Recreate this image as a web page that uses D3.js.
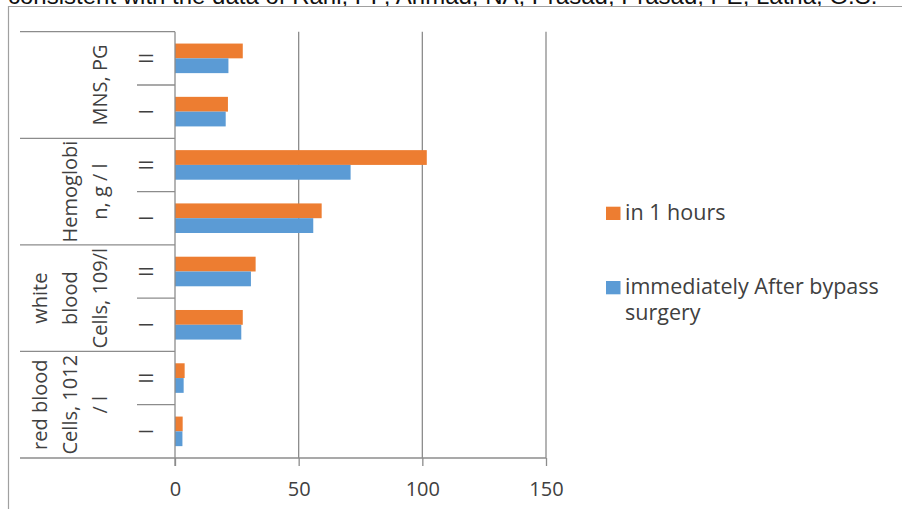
<!DOCTYPE html>
<html>
<head>
<meta charset="utf-8">
<script src="https://cdn.jsdelivr.net/npm/d3@7"></script>
<style>
  html, body { margin: 0; padding: 0; background: #fff; }
  svg { display: block; }
  text { font-family: "Open Sans", sans-serif; fill: #404040; }
</style>
</head>
<body>
<svg id="chart" width="902" height="509"></svg>
<script>
// Blood indicators, two measurement points, groups I and II
const groupLabels = [
  ["MNS, PG"],
  ["Hemoglobi", "n, g / l"],
  ["white", "blood", "Cells, 109/l"],
  ["red blood", "Cells, 1012", "/ l"]
];
const subLabels = ["II", "I"];
const seriesNames = ["in 1 hours", "immediately After bypass surgery"];
// values listed top to bottom: MNS II, MNS I, Hb II, Hb I, WBC II, WBC I, RBC II, RBC I
const in1Hours    = [27.4, 21.4, 101.8, 59.3, 32.6, 27.4, 3.9, 3.1];
const immediately = [21.6, 20.5, 71.0, 55.9, 30.7, 26.8, 3.5, 3.0];
const xTicks = [0, 50, 100, 150];
const seriesColors = ["#ED7D31", "#5B9BD5"];

const svg = d3.select("#chart");

// Caption line running off the top of the frame
svg.append("text")
  .attr("x", 8).attr("y", 4)
  .style("font-family", "'Liberation Sans', Arial, sans-serif")
  .style("font-size", "24px")
  .style("fill", "#111")
  .text("consistent with the data of Rani, PP, Ahmad, NA, Prasad, Prasad, PE, Latha, G.S.");

// Chart frame (continues past the right and bottom edges)
svg.append("path")
  .attr("d", "M8.5,520 V6.5 H910")
  .attr("fill", "none").attr("stroke", "#a0a0a0").attr("stroke-width", 1.2);

const plot = { left: 175, right: 546, top: 31.7, bottom: 458 };
const tableLeft = 20;

// Category keys, one per bar pair
const cats = [];
groupLabels.forEach((g, gi) => subLabels.forEach((s, si) => cats.push(gi + "-" + s)));

const x = d3.scaleLinear().domain([0, 150]).range([plot.left, plot.right]);
const y = d3.scaleBand().domain(cats).range([plot.top, plot.bottom])
  .paddingInner(0.445).paddingOuter(0.2225);
const ySub = d3.scaleBand().domain([0, 1]).range([0, y.bandwidth()]);
const step = y.step();

const lineColor = "#8c8c8c";

// Vertical gridlines and bottom ticks
const xAxis = d3.axisBottom(x).tickValues(xTicks).tickSize(8).tickPadding(6).tickFormat(d3.format("d"));
const gx = svg.append("g").attr("transform", `translate(0,${plot.bottom})`).call(xAxis);
gx.select(".domain").remove();
gx.selectAll(".tick line").attr("stroke", lineColor).attr("stroke-width", 1.3);
gx.selectAll(".tick text")
  .attr("dy", null).attr("y", 38)
  .style("font-family", "'Open Sans', sans-serif")
  .style("font-size", "20px").style("fill", "#404040");

svg.append("g").selectAll("line").data(xTicks.filter(d => d > 0)).join("line")
  .attr("x1", d => x(d)).attr("x2", d => x(d))
  .attr("y1", plot.top).attr("y2", plot.bottom)
  .attr("stroke", lineColor).attr("stroke-width", 1.3);

// Bars
const series = [in1Hours, immediately];
const bars = svg.append("g");
series.forEach((vals, si) => {
  bars.selectAll(".s" + si).data(vals).join("rect")
    .attr("class", "s" + si)
    .attr("x", x(0))
    .attr("y", (d, i) => y(cats[i]) + ySub(si))
    .attr("width", d => x(d) - x(0))
    .attr("height", ySub.bandwidth())
    .attr("fill", seriesColors[si]);
});

// Category axis: bottom line, vertical axis and the label table lines
svg.append("line")
  .attr("x1", tableLeft).attr("x2", plot.right)
  .attr("y1", plot.bottom).attr("y2", plot.bottom)
  .attr("stroke", lineColor).attr("stroke-width", 1.3);
svg.append("line")
  .attr("x1", plot.left).attr("x2", plot.left)
  .attr("y1", plot.top).attr("y2", plot.bottom + 8)
  .attr("stroke", lineColor).attr("stroke-width", 1.3);

const table = svg.append("g");
// long separators between groups
d3.range(groupLabels.length).forEach(gi => {
  const yy = plot.top + gi * step * subLabels.length;
  table.append("line")
    .attr("x1", tableLeft).attr("x2", plot.left).attr("y1", yy).attr("y2", yy)
    .attr("stroke", lineColor).attr("stroke-width", 1.3);
  // short separator between sub categories
  const ys = yy + step;
  table.append("line")
    .attr("x1", 137).attr("x2", plot.left).attr("y1", ys).attr("y2", ys)
    .attr("stroke", lineColor).attr("stroke-width", 1.3);
});

// Sub-category labels (rotated)
cats.forEach((c, i) => {
  const s = c.split("-")[1];
  const cy = y(c) + y.bandwidth() / 2;
  svg.append("text")
    .attr("transform", `translate(152.5,${cy}) rotate(-90)`)
    .attr("text-anchor", "middle")
    .style("font-size", "20px")
    .text(s);
});

// Group labels (rotated, multi-line, last line nearest the axis)
groupLabels.forEach((lines, gi) => {
  const cy = plot.top + (gi + 0.5) * step * subLabels.length;
  lines.forEach((ln, li) => {
    const bx = 107.3 - (lines.length - 1 - li) * 30.3;
    svg.append("text")
      .attr("transform", `translate(${bx},${cy}) rotate(-90)`)
      .attr("text-anchor", "middle")
      .style("font-size", "20px")
      .text(ln);
  });
});

// Legend
const legend = svg.append("g");
const legendItems = [
  { name: "in 1 hours", lines: ["in 1 hours"], color: seriesColors[0], y: 220 },
  { name: seriesNames[1], lines: ["immediately After bypass", "surgery"], color: seriesColors[1], y: 294.3 }
];
legendItems.forEach(it => {
  legend.append("rect")
    .attr("x", 606).attr("y", it.y - 13.3).attr("width", 14.5).attr("height", 13.3)
    .attr("fill", it.color);
  const t = legend.append("text").attr("x", 625).attr("y", it.y).style("font-size", "21.5px");
  it.lines.forEach((ln, li) => {
    t.append("tspan").attr("x", 625).attr("dy", li === 0 ? 0 : 25.5).text(ln);
  });
});
</script>
</body>
</html>
